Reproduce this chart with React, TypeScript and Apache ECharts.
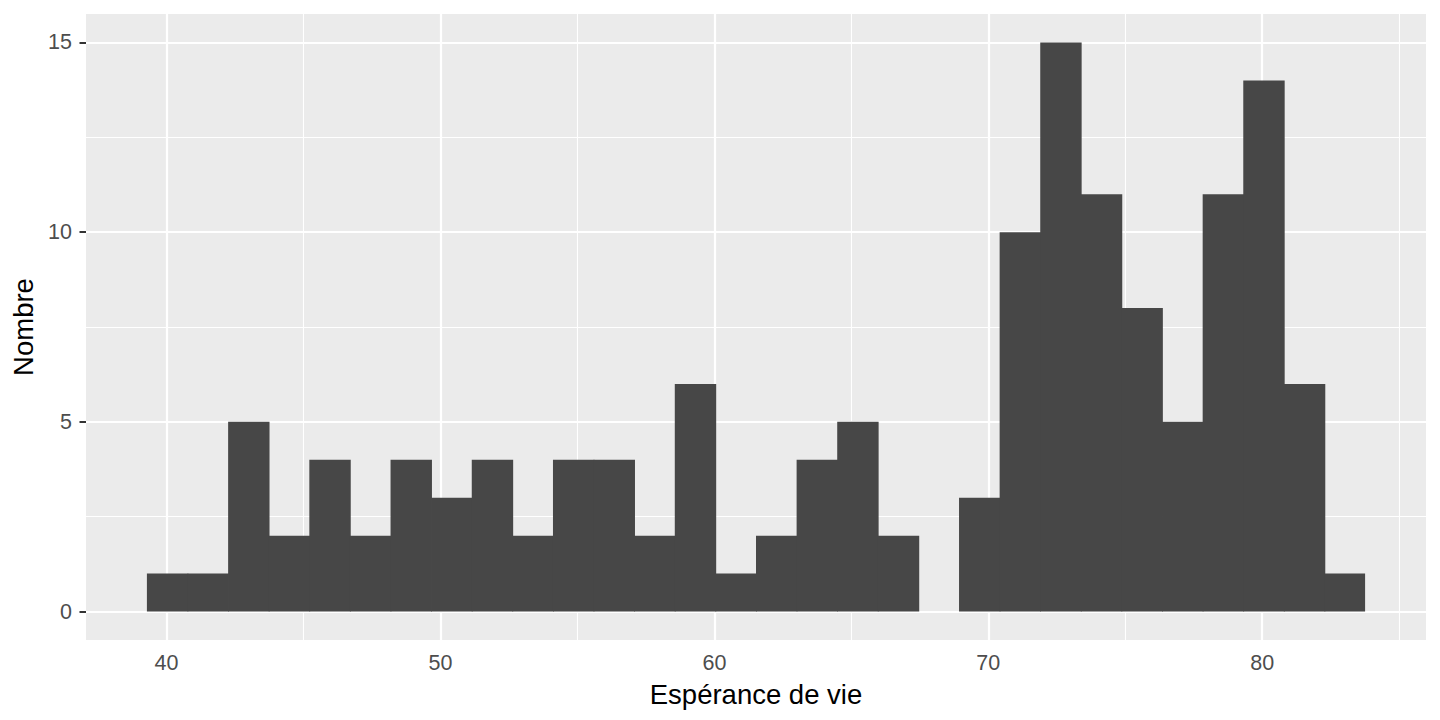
import React, { useEffect, useRef } from "react";
import * as echarts from "echarts";

// Histogram of life expectancy (30 bins)
const binOrigin = 39.284;
const binWidth = 1.48238;
const counts = [1, 1, 5, 2, 4, 2, 4, 3, 4, 2, 4, 4, 2, 6, 1, 2, 4, 5, 2, 0, 3, 10, 15, 11, 8, 5, 11, 14, 6, 1];
const xTicks = [40, 50, 60, 70, 80];
const xMinor = [45, 55, 65, 75, 85];
const yTicks = [0, 5, 10, 15];
const yMinor = [2.5, 7.5, 12.5];
const xTitle = "Espérance de vie";
const yTitle = "Nombre";

export default function App() {
  const ref = useRef<HTMLDivElement>(null);
  useEffect(() => {
    document.body.style.margin = "0";
    if (!ref.current) return;
    const chart = echarts.init(ref.current, undefined, { renderer: "svg" });
    const bins = counts.map((c, i) => [binOrigin + i * binWidth, binOrigin + (i + 1) * binWidth, c]);
    const xLo = binOrigin;
    const xHi = binOrigin + counts.length * binWidth;
    const xPad = (xHi - xLo) * 0.05;
    const yMaxC = Math.max(...counts);
    const yPad = yMaxC * 0.05;
    const font = "Liberation Sans, Arial, Helvetica, sans-serif";
    const major = { width: 2.2, color: "#ffffff", type: "solid" };
    const minor = { width: 1.1, color: "#ffffff", type: "solid" };
    chart.setOption({
      animation: false,
      grid: {
        left: 86,
        right: 14,
        top: 14,
        bottom: 80,
        show: true,
        backgroundColor: "#EBEBEB",
        borderWidth: 0,
        containLabel: false,
        outerBoundsMode: "none",
      },
      xAxis: {
        type: "value",
        min: xLo - xPad,
        max: xHi + xPad,
        name: xTitle,
        nameLocation: "middle",
        nameGap: 40,
        nameTextStyle: { fontSize: 27.5, color: "#000000", fontFamily: font },
        axisLine: { show: false },
        axisTick: { show: true, length: 6.5, customValues: xTicks, lineStyle: { color: "#333333", width: 2 } },
        axisLabel: { customValues: xTicks, margin: 12, fontSize: 21.5, color: "#4D4D4D", fontFamily: font },
        splitLine: { show: false },
      },
      yAxis: {
        type: "value",
        min: -yPad,
        max: yMaxC + yPad,
        name: yTitle,
        nameLocation: "middle",
        nameGap: 49,
        nameTextStyle: { fontSize: 27.5, color: "#000000", fontFamily: font },
        axisLine: { show: false },
        axisTick: { show: true, length: 6.5, customValues: yTicks, lineStyle: { color: "#333333", width: 2 } },
        axisLabel: { customValues: yTicks, margin: 14, fontSize: 21.5, color: "#4D4D4D", fontFamily: font },
        splitLine: { show: false },
      },
      series: [
        {
          type: "line",
          data: [],
          z: 1,
          silent: true,
          markLine: {
            z: 1,
            silent: true,
            symbol: ["none", "none"],
            label: { show: false },
            emphasis: { disabled: true },
            animation: false,
            data: [
              ...xMinor.map((v) => ({ xAxis: v, lineStyle: minor })),
              ...yMinor.map((v) => ({ yAxis: v, lineStyle: minor })),
              ...xTicks.map((v) => ({ xAxis: v, lineStyle: major })),
              ...yTicks.map((v) => ({ yAxis: v, lineStyle: major })),
            ],
          },
        },
        {
          type: "custom",
          z: 3,
          silent: true,
          data: bins,
          encode: { x: [0, 1], y: 2 },
          renderItem: (params: any, api: any) => {
            const p0 = api.coord([api.value(0), api.value(2)]);
            const p1 = api.coord([api.value(1), 0]);
            const isLast = params.dataIndex === counts.length - 1;
            const w = p1[0] - p0[0] + (isLast ? 0 : 0.8);
            return {
              type: "rect",
              shape: { x: p0[0], y: p0[1], width: w, height: p1[1] - p0[1] },
              style: { fill: "#474747" },
            };
          },
        },
      ],
    });
    return () => chart.dispose();
  }, []);
  return <div ref={ref} style={{ width: 1440, height: 720 }} />;
}
